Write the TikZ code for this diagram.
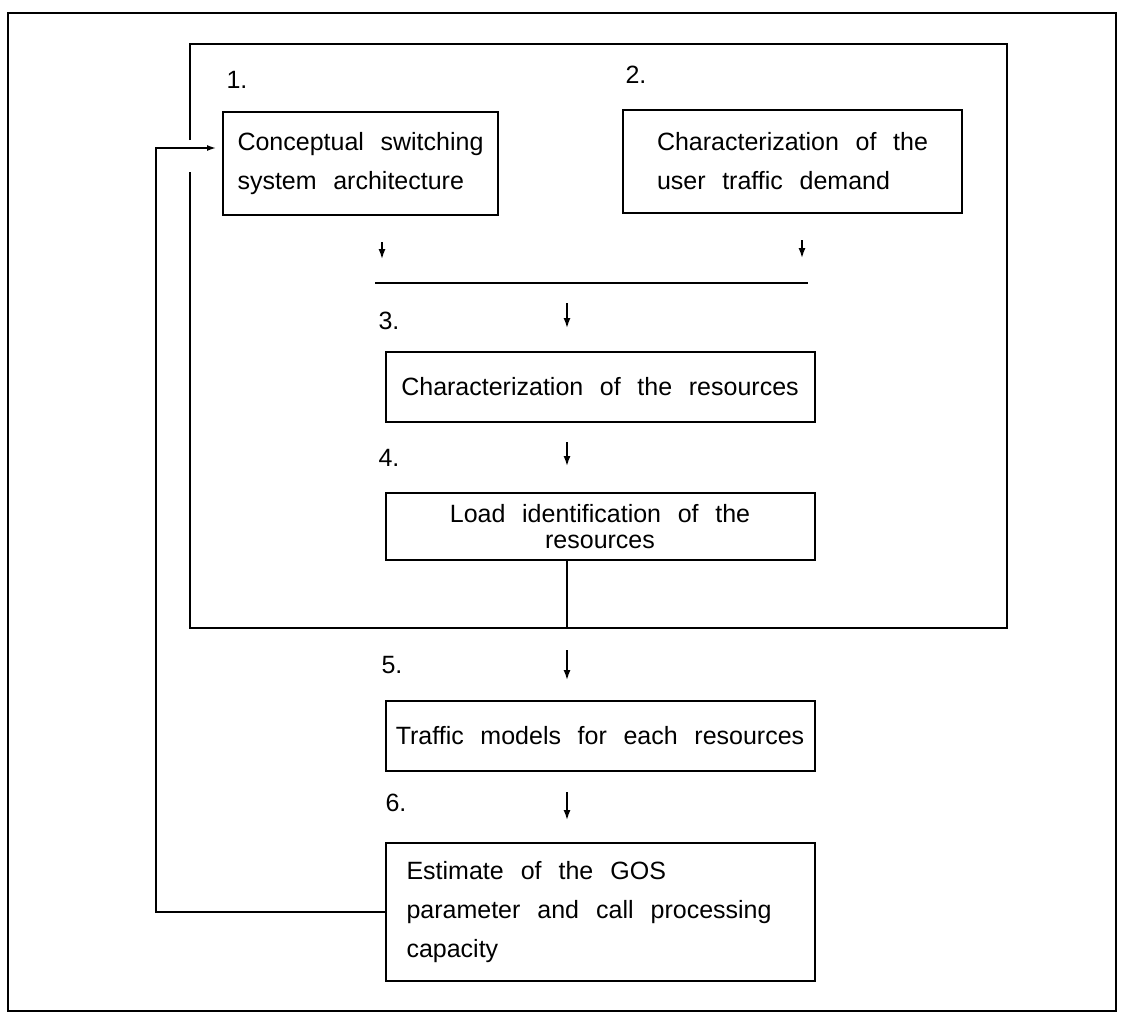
\documentclass[tikz,border=0pt]{standalone}
\usepackage{fontspec}
\setmainfont[WordSpace=2.4]{Liberation Sans}
\usetikzlibrary{arrows.meta, positioning}

\begin{document}
\begin{tikzpicture}[
  x=1pt, y=-1pt,
  font=\fontsize{25}{39}\selectfont,
  node distance=70pt,
  stage/.style={draw, line width=2pt, inner sep=0pt,
                minimum width=429pt, minimum height=70pt},
  num/.style={inner sep=0pt},
  frame/.style={line width=1.8pt},
  ar/.style={-{Latex[length=10pt, width=7pt]}, line width=1.5pt}
]
\useasboundingbox (0,0) rectangle (1123,1013);
% outer and inner frames
\draw[frame] (8,13) rectangle (1116,1011);
\draw[frame] (190,140) -- (190,44) -- (1007,44) -- (1007,628)
  -- (190,628) -- (190,172);

\node[stage, minimum width=275pt, minimum height=103pt, align=left] (b1)
  at (360.5,163.5) {Conceptual switching\\system architecture};
\node[stage, minimum width=339pt, minimum height=103pt, align=left] (b2)
  at (792.5,161.5) {Characterization of the\\user traffic demand};
\node[stage] (b3) at (600,387) {Characterization of the resources};
\node[stage, below=69pt of b3, minimum height=67pt, align=center,
      font=\fontsize{25}{26}\selectfont] (b4)
     {Load identification of the\\resources};
\node[stage, below=139pt of b4] (b5) {Traffic models for each resources};
\node[stage, below=70pt of b5, minimum height=138pt, text width=387pt,
      align=left] (b6)
     {\spaceskip=17pt plus 2pt minus 2pt\relax
      Estimate of the GOS\\parameter and call processing\\capacity};

\node[num] (n1) at (237,80) {1.};
\node[num] (n2) at (636,75) {2.};
\node[num] (n3) at (389,321) {3.};
\node[num] (n4) at (389,458) {4.};
\node[num] (n5) at (392,665) {5.};
\node[num] (n6) at (396,803) {6.};

% merge line
\coordinate (jl) at (375,283);
\coordinate (jr) at (808,283);
\draw[frame] (jl) -- (jr);
\coordinate (k1) at (382,283);
\coordinate (k2) at (802,283);
\coordinate (k3) at (567,283);
\coordinate (k5) at (567,628);
\draw[ar, shorten <=26pt, shorten >=24pt] (b1.south -| k1) -- (k1);
\draw[ar, shorten <=26pt, shorten >=25pt] (b2.south -| k2) -- (k2);
\draw[ar, shorten <=20pt, shorten >=23pt] (k3) -- (b3.north -| k3);
\draw[ar, shorten <=19pt, shorten >=26pt] (b3.south -| k3) -- (b4.north -| k3);
\draw[line width=1.5pt] (b4.south -| k3) -- (k5);
\draw[ar, shorten <=22pt, shorten >=20pt] (k5) -- (b5.north -| k3);
\draw[ar, shorten <=20pt, shorten >=22pt] (b5.south -| k3) -- (b6.north -| k3);
% feedback
\coordinate (fb) at (156,148);
\draw[ar, -{Latex[length=9pt, width=6pt]}, shorten >=6pt]
  (b6.west) -| (fb) -- (b1.west |- fb);
\end{tikzpicture}
\end{document}
